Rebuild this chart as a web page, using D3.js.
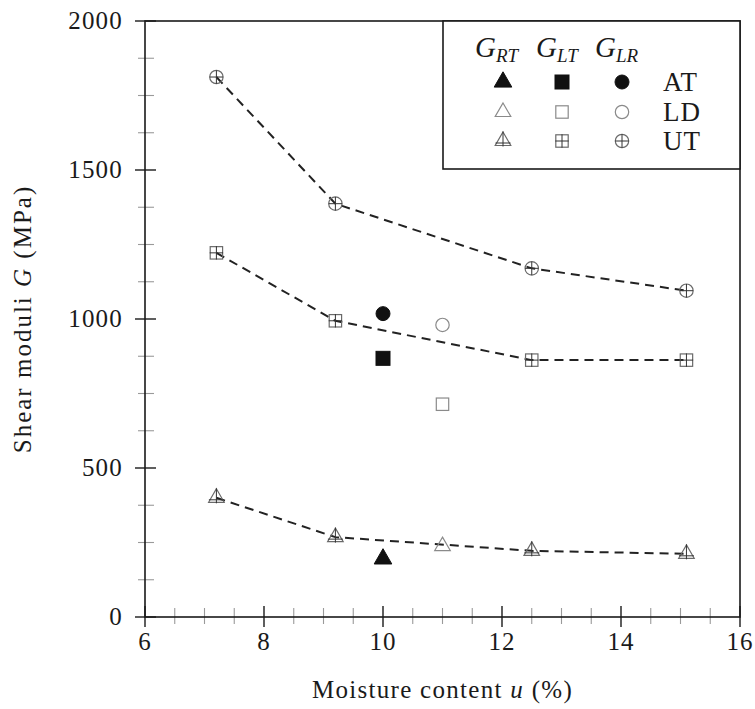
<!DOCTYPE html>
<html>
<head>
<meta charset="utf-8">
<script src="https://cdn.jsdelivr.net/npm/d3@7"></script>
<style>
  body { margin: 0; background: #fff; }
  svg { display: block; font-family: "Liberation Serif", "DejaVu Serif", serif; }
</style>
</head>
<body>
<svg id="chart" width="755" height="709"></svg>
<script>
// moisture content u (%) of the UT series, and of the single AT / LD points
const uUT = [7.2, 9.2, 12.5, 15.1];
const uAT = 10.0;
const uLD = 11.0;

// shear moduli (MPa), UT series
const gRT_UT = [400, 268, 222, 212];
const gLT_UT = [1222, 994, 862, 862];
const gLR_UT = [1812, 1387, 1170, 1095];

// single points, order: G_RT, G_LT, G_LR
const gAT = [195, 868, 1018];
const gLD = [238, 714, 980];

const xTicks = [6, 8, 10, 12, 14, 16];
const yTicks = [0, 500, 1000, 1500, 2000];
const moduli = ["RT", "LT", "LR"];
const groups = ["AT", "LD", "UT"];

const svg = d3.select("#chart");
const x = d3.scaleLinear().domain([6, 16]).range([145, 740]);
const y = d3.scaleLinear().domain([0, 2000]).range([617, 21]);

const ink = "#1a1a1a";

// minor ticks (gray, centred on the axis)
const xMinor = d3.range(6, 16.01, 0.5).filter(v => !xTicks.includes(v));
const yMinor = d3.range(0, 2000.1, 125).filter(v => !yTicks.includes(v));
svg.append("g").selectAll("line").data(xMinor).join("line")
  .attr("x1", d => x(d)).attr("x2", d => x(d))
  .attr("y1", y(0) - 9).attr("y2", y(0) + 7)
  .attr("stroke", "#9a9a9a").attr("stroke-width", 1.1);
svg.append("g").selectAll("line").data(yMinor).join("line")
  .attr("y1", d => y(d)).attr("y2", d => y(d))
  .attr("x1", x(6) - 7).attr("x2", x(6) + 9)
  .attr("stroke", "#9a9a9a").attr("stroke-width", 1.1);

// major ticks
svg.append("g").selectAll("line").data(xTicks).join("line")
  .attr("x1", d => x(d)).attr("x2", d => x(d))
  .attr("y1", y(0) - 11).attr("y2", y(0) + 10)
  .attr("stroke", ink).attr("stroke-width", 1.4);
svg.append("g").selectAll("line").data(yTicks).join("line")
  .attr("y1", d => y(d)).attr("y2", d => y(d))
  .attr("x1", x(6) - 10).attr("x2", x(6) + 11)
  .attr("stroke", ink).attr("stroke-width", 1.4);

// frame
svg.append("rect")
  .attr("x", x(6)).attr("y", y(2000))
  .attr("width", x(16) - x(6)).attr("height", y(0) - y(2000))
  .attr("fill", "none").attr("stroke", ink).attr("stroke-width", 1.6);

// tick labels
svg.append("g").selectAll("text").data(xTicks).join("text")
  .attr("x", d => x(d)).attr("y", y(0) + 33)
  .attr("text-anchor", "middle").attr("font-size", 25).attr("letter-spacing", 1).attr("fill", ink)
  .text(d => d);
svg.append("g").selectAll("text").data(yTicks).join("text")
  .attr("x", x(6) - 22).attr("y", d => y(d) + 8)
  .attr("text-anchor", "end").attr("font-size", 25).attr("letter-spacing", 1.2).attr("fill", ink)
  .text(d => d);

// axis titles
const xt = svg.append("text")
  .attr("x", (x(6) + x(16)) / 2).attr("y", 698)
  .attr("text-anchor", "middle").attr("font-size", 25).attr("letter-spacing", 1.3).attr("fill", ink);
xt.append("tspan").text("Moisture content ");
xt.append("tspan").attr("font-style", "italic").text("u");
xt.append("tspan").text(" (%)");

const yt = svg.append("text")
  .attr("transform", `translate(31,${(y(0) + y(2000)) / 2}) rotate(-90)`)
  .attr("text-anchor", "middle").attr("font-size", 25).attr("letter-spacing", 2).attr("fill", ink);
yt.append("tspan").text("Shear moduli ");
yt.append("tspan").attr("font-style", "italic").text("G");
yt.append("tspan").text(" (MPa)");

// marker drawing
function marker(g, kind, style, cx, cy) {
  const filled = style === "AT";
  const col = filled ? "#111" : (style === "UT" ? "#6a6a6a" : "#8a8a8a");
  const m = g.append("g").attr("transform", `translate(${cx},${cy})`);
  const base = { fill: filled ? "#111" : "none", stroke: col, "stroke-width": filled ? 1 : 1.2 };
  let s;
  if (kind === "RT") {
    const sz = filled ? 135 : 105;
    s = m.append("path").attr("d", d3.symbol(d3.symbolTriangle, sz)());
  } else if (kind === "LT") {
    const h = filled ? 7 : 6.2;
    s = m.append("rect").attr("x", -h).attr("y", -h).attr("width", 2 * h).attr("height", 2 * h);
  } else {
    s = m.append("circle").attr("r", filled ? 7 : 6.7);
  }
  Object.entries(base).forEach(([k, v]) => s.attr(k, v));
  if (style === "UT") {
    const r = kind === "RT" ? 7.5 : 6.7;
    const dy = kind === "RT" ? 2 : 0;
    m.append("path")
      .attr("d", `M0,${-r - dy}V${r - dy}M${-r},${dy}H${r}`)
      .attr("stroke", "#333").attr("stroke-width", 1).attr("fill", "none");
  }
}

// dashed UT curves
const line = d3.line().x(d => x(d[0])).y(d => y(d[1]));
const pts = g => uUT.map((u, i) => [u, g[i]]);
const utSeries = [gRT_UT, gLT_UT, gLR_UT];
svg.append("g").selectAll("path").data(utSeries).join("path")
  .attr("d", d => line(pts(d)))
  .attr("fill", "none").attr("stroke", "#222").attr("stroke-width", 2)
  .attr("stroke-dasharray", "9,6");

const marks = svg.append("g");
utSeries.forEach((ser, k) => ser.forEach((v, i) => marker(marks, moduli[k], "UT", x(uUT[i]), y(v))));
gAT.forEach((v, k) => marker(marks, moduli[k], "AT", x(uAT), y(v)));
gLD.forEach((v, k) => marker(marks, moduli[k], "LD", x(uLD), y(v)));

// legend
const lg = svg.append("g");
lg.append("rect").attr("x", 443).attr("y", y(2000)).attr("width", x(16) - 443).attr("height", 148)
  .attr("fill", "#fff").attr("stroke", ink).attr("stroke-width", 1.6);
const colX = [503, 562, 622];
const headX = [475, 536, 595];
const rowY = [82, 112, 141];
moduli.forEach((m, k) => {
  const t = lg.append("text").attr("x", headX[k]).attr("y", 57)
    .attr("font-style", "italic").attr("fill", ink);
  t.append("tspan").attr("font-size", 29).text("G");
  t.append("tspan").attr("font-size", 19).attr("dy", 5).text(m);
});
groups.forEach((gname, r) => {
  moduli.forEach((m, k) => marker(lg, m, gname, colX[k], rowY[r]));
  lg.append("text").attr("x", 663).attr("y", rowY[r] + 9).attr("font-size", 27).attr("letter-spacing", 1).attr("fill", ink).text(gname);
});
</script>
</body>
</html>
